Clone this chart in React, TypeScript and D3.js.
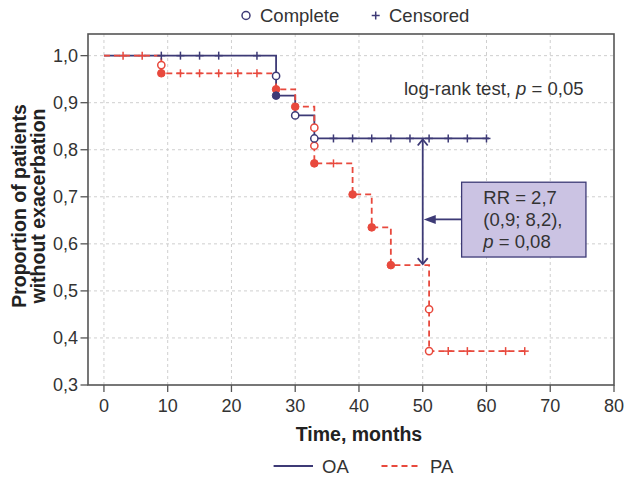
import React from "react";
import * as d3 from "d3";

// ---- data ----
const xTicks = [0, 10, 20, 30, 40, 50, 60, 70, 80];
const yTicks = [0.3, 0.4, 0.5, 0.6, 0.7, 0.8, 0.9, 1.0];

// OA (solid navy) Kaplan-Meier steps
const oaTimes = [0, 27, 30, 33];
const oaSurv = [1.0, 0.915, 0.873, 0.824];
const oaEnd = 60.4;
const oaCensorTimes = [9, 12, 15, 18, 24, 36, 39, 42, 45, 48, 51, 54, 57, 60];
const oaOpenT = [27, 30, 33];
const oaOpenS = [0.957, 0.873, 0.824];
const oaFilledT = [27];
const oaFilledS = [0.915];

// PA (dashed red)
const paTimes = [0, 9, 27, 30, 33, 39, 42, 45, 51];
const paSurv = [1.0, 0.9625, 0.9285, 0.8915, 0.771, 0.705, 0.635, 0.5547, 0.372];
const paEnd = 66;
const paCensorTimes = [3, 6, 12, 15, 18, 21, 24, 36, 54, 57, 63, 66];
const paOpenT = [9, 33, 33, 51, 51];
const paOpenS = [0.98, 0.847, 0.8085, 0.461, 0.372];
const paFilledT = [9, 27, 30, 33, 39, 42, 45];
const paFilledS = [0.9625, 0.9285, 0.8915, 0.771, 0.705, 0.635, 0.5547];

// annotation (data units)
const rrArrowT = 50;
const rrTop = 0.824;
const rrBottom = 0.5547;
const rrBox = { t0: 56.1, t1: 75.6, s0: 0.731, s1: 0.572 };
const rrArrowS = 0.652;
const rrLines = ["RR = 2,7", "(0,9; 8,2),"];

const NAVY = "#3d3a76";
const RED = "#e8493d";
const FONT = "'Liberation Sans', Arial, Helvetica, sans-serif";

function stepLevel(times: number[], surv: number[], t: number) {
  let v = surv[0];
  for (let i = 0; i < times.length; i++) if (times[i] <= t) v = surv[i];
  return v;
}

export default function App() {
  const x = d3.scaleLinear().domain([-2.5, 80]).range([88, 614]);
  const y = d3.scaleLinear().domain([0.3, 1.046]).range([385, 34]);

  const line = d3
    .line<[number, number]>()
    .x((d) => x(d[0]))
    .y((d) => y(d[1]))
    .curve(d3.curveStepAfter);

  const oaPts: [number, number][] = oaTimes.map((t, i) => [t, oaSurv[i]]);
  oaPts.push([oaEnd, oaSurv[oaSurv.length - 1]]);
  const paPts: [number, number][] = paTimes.map((t, i) => [t, paSurv[i]]);
  paPts.push([paEnd, paSurv[paSurv.length - 1]]);

  const fs = 18.5;
  const plus = (cx: number, cy: number, color: string, key: string) => (
    <g key={key} stroke={color} strokeWidth={1.5}>
      <line x1={cx - 4} x2={cx + 4} y1={cy} y2={cy} />
      <line x1={cx} x2={cx} y1={cy - 4} y2={cy + 4} />
    </g>
  );

  const ax = x(rrArrowT);
  const aTop = y(rrTop);
  const aBot = y(rrBottom);
  const bx0 = x(rrBox.t0);
  const bx1 = x(rrBox.t1);
  const by0 = y(rrBox.s0);
  const by1 = y(rrBox.s1);
  const ay = y(rrArrowS);

  return (
    <svg
      width={627}
      height={477}
      style={{ position: "absolute", left: 0, top: 0, background: "#fff" }}
      fontFamily={FONT}
    >
      <rect x={0} y={0} width={627} height={477} fill="#fff" />

      {/* top legend */}
      <circle cx={246} cy={15.5} r={4} fill="none" stroke={NAVY} strokeWidth={1.5} />
      <text x={260} y={21.7} fontSize={fs} fill="#333">Complete</text>
      {plus(375.7, 15.5, NAVY, "lp")}
      <text x={389} y={21.7} fontSize={fs} fill="#333">Censored</text>

      {/* grid */}
      <g stroke="#cfcfcf" strokeWidth={1} strokeDasharray="3,3">
        {xTicks.filter((t) => t < 80).map((t) => (
          <line key={"gx" + t} x1={x(t)} x2={x(t)} y1={y(1.046)} y2={y(0.3)} />
        ))}
        {yTicks.filter((t) => t > 0.3).map((t) => (
          <line key={"gy" + t} x1={x(-2.5)} x2={x(80)} y1={y(t)} y2={y(t)} />
        ))}
      </g>

      {/* frame */}
      <rect x={x(-2.5)} y={y(1.046)} width={x(80) - x(-2.5)} height={y(0.3) - y(1.046)} fill="none" stroke="#555" strokeWidth={1.6} />

      {/* ticks */}
      <g stroke="#555" strokeWidth={1.3}>
        {xTicks.map((t) => (
          <line key={"tx" + t} x1={x(t)} x2={x(t)} y1={385} y2={392} />
        ))}
        {yTicks.map((t) => (
          <line key={"ty" + t} x1={80.5} x2={88} y1={y(t)} y2={y(t)} />
        ))}
      </g>
      <g fontSize={18} fill="#333">
        {xTicks.map((t) => (
          <text key={"lx" + t} x={x(t)} y={411.5} textAnchor="middle">{t}</text>
        ))}
        {yTicks.map((t) => (
          <text key={"ly" + t} x={78} y={y(t)} dy="0.35em" textAnchor="end">
            {t.toFixed(1).replace(".", ",")}
          </text>
        ))}
      </g>

      {/* axis titles */}
      <text x={x(40)} y={441} textAnchor="middle" fontSize={19.5} fontWeight="bold" fill="#222">
        Time, months
      </text>
      <g transform="translate(0,206) rotate(-90)" fontSize={19.5} fontWeight="bold" fill="#222">
        <text x={0} y={26} textAnchor="middle">Proportion of patients</text>
        <text x={0} y={44.5} textAnchor="middle">without exacerbation</text>
      </g>

      {/* curves */}
      <path d={line(oaPts) || ""} fill="none" stroke={NAVY} strokeWidth={1.8} />
      <path d={line(paPts) || ""} fill="none" stroke={RED} strokeWidth={1.8} strokeDasharray="6,4" />

      {oaCensorTimes.map((t, i) => plus(x(t), y(stepLevel(oaTimes, oaSurv, t)), NAVY, "oc" + i))}
      {paCensorTimes.map((t, i) => plus(x(t), y(stepLevel(paTimes, paSurv, t)), RED, "pc" + i))}

      {paOpenT.map((t, i) => (
        <circle key={"po" + i} cx={x(t)} cy={y(paOpenS[i])} r={3.6} fill="#fff" stroke={RED} strokeWidth={1.5} />
      ))}
      {paFilledT.map((t, i) => (
        <circle key={"pf" + i} cx={x(t)} cy={y(paFilledS[i])} r={3.8} fill={RED} stroke={RED} strokeWidth={1} />
      ))}
      {oaOpenT.map((t, i) => (
        <circle key={"oo" + i} cx={x(t)} cy={y(oaOpenS[i])} r={3.6} fill="#fff" stroke={NAVY} strokeWidth={1.5} />
      ))}
      {oaFilledT.map((t, i) => (
        <circle key={"of" + i} cx={x(t)} cy={y(oaFilledS[i])} r={3.8} fill={NAVY} stroke={NAVY} strokeWidth={1} />
      ))}

      {/* log-rank text */}
      <text x={404} y={95.3} fontSize={fs} fill="#333">
        log-rank test, <tspan fontStyle="italic">p</tspan> = 0,05
      </text>

      {/* RR annotation */}
      <g stroke={NAVY} strokeWidth={1.8} fill="none">
        <line x1={ax} x2={ax} y1={aTop + 1} y2={aBot - 1} />
        <polyline points={`${ax - 5},${aTop + 7} ${ax},${aTop + 1} ${ax + 5},${aTop + 7}`} />
        <polyline points={`${ax - 5},${aBot - 7} ${ax},${aBot - 1} ${ax + 5},${aBot - 7}`} />
        <line x1={bx0} x2={ax + 8} y1={ay} y2={ay} />
      </g>
      <polygon points={`${ax + 1},${ay} ${ax + 13},${ay - 4.5} ${ax + 13},${ay + 4.5}`} fill={NAVY} />
      <rect x={bx0} y={by0} width={bx1 - bx0} height={by1 - by0} fill="#cbc3e3" stroke={NAVY} strokeWidth={1.3} />
      <g fontSize={fs} fill="#333">
        <text x={483.3} y={204}>{rrLines[0]}</text>
        <text x={483.3} y={226}>{rrLines[1]}</text>
        <text x={483.3} y={248}>
          <tspan fontStyle="italic">p</tspan> = 0,08
        </text>
      </g>

      {/* bottom legend */}
      <line x1={273.6} x2={313} y1={466} y2={466} stroke={NAVY} strokeWidth={1.8} />
      <text x={322} y={472.5} fontSize={fs} fill="#333">OA</text>
      <line x1={381.5} x2={420.5} y1={466} y2={466} stroke={RED} strokeWidth={1.8} strokeDasharray="6,4" />
      <text x={430} y={472.5} fontSize={fs} fill="#333">PA</text>
    </svg>
  );
}
